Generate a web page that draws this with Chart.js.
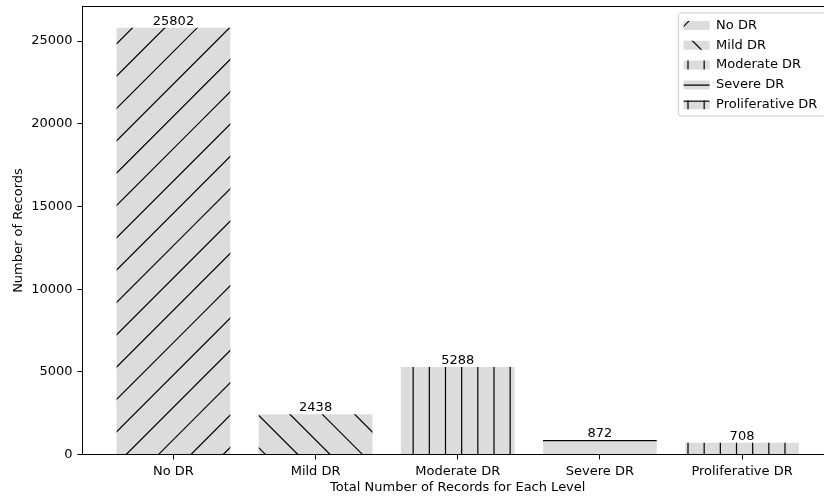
<!DOCTYPE html>
<html>
<head>
<meta charset="utf-8">
<script src="https://cdn.jsdelivr.net/npm/chart.js@4.4.1/dist/chart.umd.min.js"></script>
<style>
  html, body { margin: 0; padding: 0; background: #fff; overflow: hidden; width: 824px; height: 499px; }
  /* the reference is cropped on the right, so the plot runs past the visible edge */
  #wrap { position: relative; width: 824px; height: 499px; overflow: hidden; }
  canvas { display: block; position: absolute; left: 0; top: 0; }
</style>
</head>
<body>
<div id="wrap"><canvas id="myChart" width="834" height="499"></canvas></div>
<script>
const categories = ['No DR', 'Mild DR', 'Moderate DR', 'Severe DR', 'Proliferative DR'];
const records = [25802, 2438, 5288, 872, 708];
const hatches = ['/', '\\', '|', '-', '+'];
const yTicks = [0, 5000, 10000, 15000, 20000, 25000];

// matplotlib style hatch, one 97px tile anchored to the canvas origin
function hatchPattern(ctx, h) {
  const u = 97, s6 = u / 6, s3 = u / 3;
  const c = document.createElement('canvas');
  c.width = u; c.height = u;
  const g = c.getContext('2d');
  g.fillStyle = '#dcdcdc';
  g.fillRect(0, 0, u, u);
  g.strokeStyle = '#000';
  g.lineWidth = 1.2;
  g.beginPath();
  if (h === '|' || h === '+') {
    for (let k = 0; k < 6; k++) { const x = 9 + k * s6; g.moveTo(x, 0); g.lineTo(x, u); }
  }
  if (h === '-' || h === '+') {
    for (let k = 0; k < 6; k++) { const y = 4.2 + k * s6; g.moveTo(0, y); g.lineTo(u, y); }
  }
  if (h === '/') {
    for (let k = -1; k < 7; k++) { const d = 31 + k * s3; g.moveTo(d + 10, -10); g.lineTo(d - u - 10, u + 10); }
  }
  if (h === '\\') {
    for (let k = -4; k < 4; k++) { const d = 5 + k * s3; g.moveTo(d - 10, -10); g.lineTo(d + u + 10, u + 10); }
  }
  g.stroke();
  return ctx.createPattern(c, 'repeat');
}

const ctx = document.getElementById('myChart').getContext('2d');
const patterns = hatches.map(h => hatchPattern(ctx, h));
const yMax = Math.max(...records) * 1.05;
const FONT = "13px 'DejaVu Sans'";

Chart.defaults.font.family = "'DejaVu Sans', sans-serif";
Chart.defaults.font.size = 13;
Chart.defaults.color = '#000';

const extras = {
  id: 'extras',
  afterLayout(chart) {
    // put the legend in the upper right corner like matplotlib
    const lg = chart.legend, a = chart.chartArea;
    const pad = lg.options.labels.padding;
    chart.ctx.save();
    chart.ctx.font = FONT;
    const tw = Math.max(...categories.map(t => chart.ctx.measureText(t).width));
    chart.ctx.restore();
    const right = a.right - 6.5, top = a.top + 6.5;
    const left = right - (5.2 + 26 + 10.4 + tw + 5.2);
    lg.frame = { left, top, right, bottom: top + 103 };
    lg.left = left + 5.2 - pad;
    lg.top = top + 6 - pad;
  },
  beforeDraw(chart) {
    const f = chart.legend.frame;
    if (!f) return;
    const c = chart.ctx;
    c.save();
    c.beginPath();
    c.roundRect(f.left, f.top, f.right - f.left, f.bottom - f.top, 2.6);
    c.fillStyle = 'rgba(255,255,255,0.8)';
    c.fill();
    c.strokeStyle = '#cccccc';
    c.lineWidth = 1;
    c.stroke();
    c.restore();
  },
  afterDatasetsDraw(chart) {
    const c = chart.ctx, a = chart.chartArea;
    c.save();
    c.font = FONT;
    c.fillStyle = '#000';
    c.textAlign = 'center';
    c.textBaseline = 'alphabetic';
    chart.getDatasetMeta(0).data.forEach((bar, i) => {
      c.fillText(String(records[i]), bar.x, bar.y - 3);
    });
    c.strokeStyle = '#000';
    c.lineWidth = 1;
    c.strokeRect(a.left, a.top, a.right - a.left, a.bottom - a.top);
    c.restore();
  }
};

new Chart(ctx, {
  type: 'bar',
  data: {
    labels: categories,
    datasets: [{
      data: records.map((v, i) => ({ x: i, y: v })),
      backgroundColor: patterns,
      borderWidth: 0,
      barPercentage: 0.8,
      categoryPercentage: 1.0
    }]
  },
  options: {
    responsive: false,
    animation: false,
    devicePixelRatio: 1,
    layout: { padding: { left: 0, top: 6.5, right: 1, bottom: 0 } },
    plugins: {
      tooltip: { enabled: false },
      legend: {
        position: 'chartArea',
        align: 'start',
        labels: {
          boxWidth: 26,
          boxHeight: 9,
          padding: 6.8,
          font: { size: 13 },
          generateLabels: () => categories.map((t, i) => ({
            text: t, fillStyle: patterns[i], strokeStyle: 'rgba(0,0,0,0)', lineWidth: 0, hidden: false, index: i
          }))
        }
      }
    },
    scales: {
      x: {
        type: 'linear',
        min: -0.64,
        max: 4.64,
        offset: false,
        afterBuildTicks: s => { s.ticks = categories.map((_, i) => ({ value: i })); },
        afterFit: s => { s.height = 44.5; s.paddingLeft = 0; s.paddingRight = 0; },
        border: { display: false },
        grid: { offset: false, drawOnChartArea: false, drawTicks: true, tickLength: 5, tickColor: '#000' },
        ticks: { autoSkip: false, maxRotation: 0, padding: 4.5, callback: v => categories[v] },
        title: { display: true, text: 'Total Number of Records for Each Level', padding: { top: 0, bottom: 3.2 } }
      },
      y: {
        min: 0,
        max: yMax,
        afterBuildTicks: s => { s.ticks = yTicks.map(v => ({ value: v })); },
        afterFit: s => { s.width = 82.5; s.paddingTop = 0; s.paddingBottom = 0; },
        border: { display: false },
        grid: { drawOnChartArea: false, drawTicks: true, tickLength: 5, tickColor: '#000' },
        ticks: { padding: 5, callback: v => String(v) },
        title: { display: true, text: 'Number of Records', padding: { top: 10.4, bottom: 0 } }
      }
    }
  },
  plugins: [extras]
});
</script>
</body>
</html>
